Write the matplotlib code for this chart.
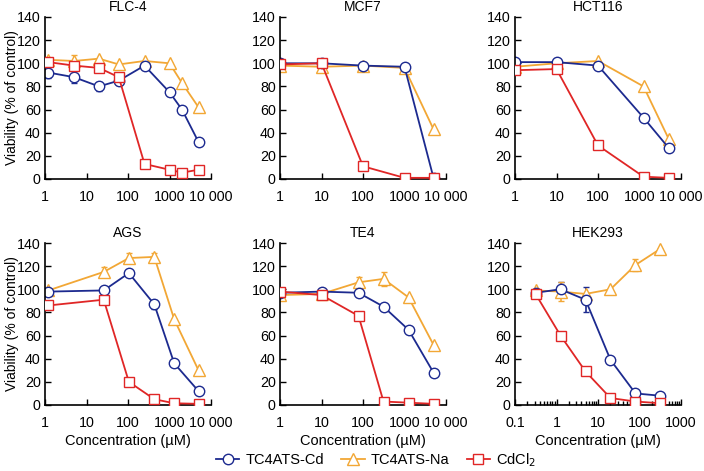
import numpy as np
import matplotlib.pyplot as plt
from matplotlib.lines import Line2D
from matplotlib.ticker import LogLocator, NullFormatter, FixedLocator, FixedFormatter

plt.rcParams['font.family'] = ['Liberation Sans', 'DejaVu Sans']

# panel titles
titles = ['FLC-4', 'MCF7', 'HCT116', 'AGS', 'TE4', 'HEK293']

# concentrations (uM)
conc_flc4 = [1.2, 5, 20, 60, 250, 1000, 2000, 5000]
conc_mcf7 = [1, 10, 100, 1000, 5000]
conc_hct116 = [1, 10, 100, 1250, 5000]
conc_ags = [1.2, 26, 105, 430, 1300, 5000]
conc_te4 = [1, 10, 78, 312, 1250, 5000]
conc_hek293 = [0.3125, 1.25, 5, 20, 80, 320]

# viability (% of control)
cd_flc4 = [92, 88, 80, 85, 98, 75, 60, 32]
na_flc4 = [103, 102, 104, 99, 102, 100, 83, 62]
cl_flc4 = [101, 98, 96, 88, 13, 8, 5.5, 8]
cd_flc4_err = [5, 5, 4, 4, 0, 3, 0, 0]
na_flc4_err = [0, 5, 0, 0, 0, 0, 0, 0]

cd_mcf7 = [100, 100, 98, 97, 1]
na_mcf7 = [98, 97, 98, 96, 43]
cl_mcf7 = [99, 100, 11, 1, 1]

cd_hct116 = [101, 101, 98, 53, 27]
na_hct116 = [97, 100, 102, 80, 35]
cl_hct116 = [94, 95, 29, 2, 1]

cd_ags = [98, 99, 114, 87, 36, 12]
na_ags = [99, 115, 127, 128, 74, 30]
cl_ags = [86, 91, 20, 5, 1.5, 1]
cd_ags_err = [0, 3, 0, 4, 0, 0]
na_ags_err = [0, 4, 4, 3, 0, 0]

cd_te4 = [97, 98, 97, 85, 65, 28]
na_te4 = [95, 96, 106, 109, 93, 52]
cl_te4 = [98, 95, 77, 3, 2, 1]
na_te4_err = [0, 0, 5, 6, 0, 0]

cd_hek293 = [97, 100, 91, 39, 10, 8]
na_hek293 = [99, 98, 96, 100, 121, 135]
cl_hek293 = [96, 60, 29, 6, 3, 1.5]
cd_hek293_err = [0, 6, 11, 0, 0, 0]
na_hek293_err = [0, 8, 0, 0, 5, 0]

panels = [
    (conc_flc4, cd_flc4, na_flc4, cl_flc4, cd_flc4_err, na_flc4_err),
    (conc_mcf7, cd_mcf7, na_mcf7, cl_mcf7, None, None),
    (conc_hct116, cd_hct116, na_hct116, cl_hct116, None, None),
    (conc_ags, cd_ags, na_ags, cl_ags, cd_ags_err, na_ags_err),
    (conc_te4, cd_te4, na_te4, cl_te4, None, na_te4_err),
    (conc_hek293, cd_hek293, na_hek293, cl_hek293, cd_hek293_err, na_hek293_err),
]

c_cd = '#1c2a8f'
c_na = '#f2a735'
c_cl = '#e02626'

fig = plt.figure(figsize=(7.04, 4.71), dpi=100)

lefts = [45, 280, 515]
width = 166
tops = [17, 243]
height = 162

for i, (x, cd, na, cl, cde, nae) in enumerate(panels):
    r, c = divmod(i, 3)
    ax = fig.add_axes([lefts[c] / 704, 1 - (tops[r] + height) / 471,
                       width / 704, height / 471])
    ax.plot(x, cl, '-s', color=c_cl, mfc='white', ms=7, lw=1.3, mew=1, zorder=3)
    ax.plot(x, na, '-^', color=c_na, mfc='white', ms=8.5, lw=1.3, mew=1, zorder=2)
    ax.plot(x, cd, '-o', color=c_cd, mfc='white', ms=7.5, lw=1.3, mew=1, zorder=2.5)
    if cde is not None:
        ax.errorbar(x, cd, yerr=cde, fmt='none', ecolor=c_cd, elinewidth=1.2,
                    capsize=2, zorder=1)
    if nae is not None:
        ax.errorbar(x, na, yerr=nae, fmt='none', ecolor=c_na, elinewidth=1.2,
                    capsize=2, zorder=1)

    ax.set_xscale('log')
    if i == 5:
        ax.set_xlim(0.1, 1000)
        ticks = [0.1, 1, 10, 100, 1000]
        labels = ['0.1', '1', '10', '100', '1000']
    else:
        ax.set_xlim(1, 10000)
        ticks = [1, 10, 100, 1000, 10000]
        labels = ['1', '10', '100', '1000', '10 000']
    ax.xaxis.set_major_locator(FixedLocator(ticks))
    ax.xaxis.set_major_formatter(FixedFormatter(labels))
    ax.xaxis.set_minor_locator(LogLocator(base=10, subs=np.arange(2, 10)))
    ax.xaxis.set_minor_formatter(NullFormatter())
    ax.set_ylim(0, 140)
    ax.set_yticks(np.arange(0, 141, 20))
    ax.tick_params(which='major', direction='in', length=4, width=1, labelsize=10.3)
    ax.tick_params(which='minor', direction='in', length=3, width=1)
    ax.tick_params(axis='x', pad=8)
    ax.tick_params(axis='y', pad=3)
    for s in ['top', 'right']:
        ax.spines[s].set_visible(False)
    for s in ['left', 'bottom']:
        ax.spines[s].set_linewidth(1.2)
    ax.set_title(titles[i], fontsize=10, pad=4)
    if c == 0:
        ax.set_ylabel('Viability (% of control)', fontsize=10, va='center')
        ax.yaxis.set_label_coords(-0.2, 0.5)
    if r == 1:
        ax.set_xlabel('Concentration (µM)', fontsize=10.5, labelpad=3)

handles = [
    Line2D([], [], color=c_cd, marker='o', mfc='white', ms=7.5, lw=1.3),
    Line2D([], [], color=c_na, marker='^', mfc='white', ms=8.5, lw=1.3),
    Line2D([], [], color=c_cl, marker='s', mfc='white', ms=7, lw=1.3),
]
fig.legend(handles, ['TC4ATS-Cd', 'TC4ATS-Na', 'CdCl$_2$'], loc='center',
           bbox_to_anchor=(376 / 704, 1 - 460 / 471), ncol=3, frameon=False,
           fontsize=10.5, handlelength=1.6, handletextpad=0.4, columnspacing=1.2)

fig.savefig('out.png', dpi=100)
